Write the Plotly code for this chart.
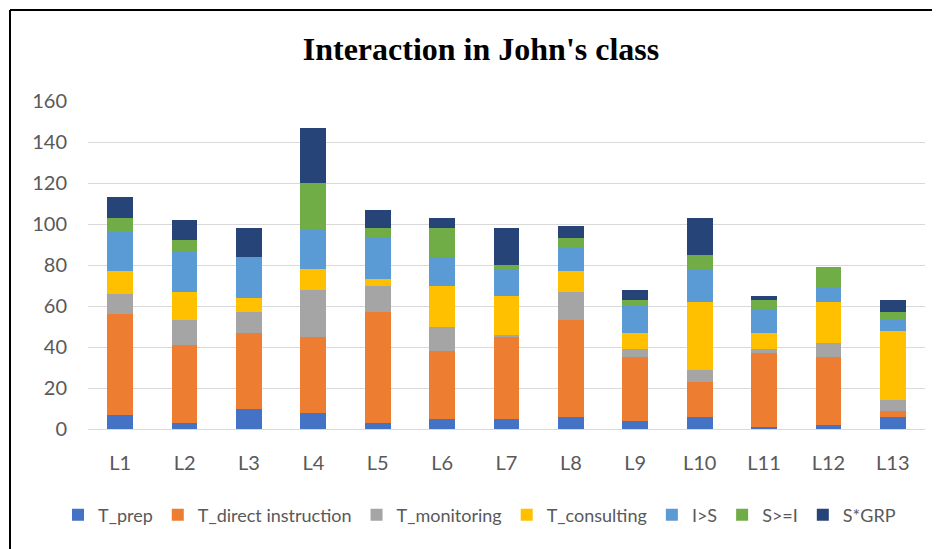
import plotly.graph_objects as go

lessons = ['L1', 'L2', 'L3', 'L4', 'L5', 'L6', 'L7', 'L8', 'L9', 'L10', 'L11', 'L12', 'L13']

t_prep = [7, 3, 10, 8, 3, 5, 5, 6, 4, 6, 1, 2, 6]
t_direct = [49, 38, 37, 37, 54, 33, 40, 47, 31, 17, 36, 33, 3]
t_monitoring = [10, 12, 10, 23, 13, 12, 1, 14, 4, 6, 2, 7, 5]
t_consulting = [11, 14, 7, 10, 3, 20, 19, 10, 8, 33, 8, 20, 34]
i_gt_s = [19, 20, 20, 19, 20, 14, 13, 12, 13, 16, 11, 7, 5]
s_ge_i = [7, 5, 0, 23, 5, 14, 2, 4, 3, 7, 5, 10, 4]
s_grp = [10, 10, 14, 27, 9, 5, 18, 6, 5, 18, 2, 0, 6]

series = [
    ('T_prep', t_prep, '#4472C4'),
    ('T_direct instruction', t_direct, '#ED7D31'),
    ('T_monitoring', t_monitoring, '#A5A5A5'),
    ('T_consulting', t_consulting, '#FFC000'),
    ('I>S', i_gt_s, '#5B9BD5'),
    ('S>=I', s_ge_i, '#70AD47'),
    ('S*GRP', s_grp, '#264478'),
]

fig = go.Figure()
for name, vals, color in series:
    fig.add_trace(go.Bar(x=lessons, y=vals, name=name,
                         marker=dict(color=color, line=dict(width=0))))

# page body has an 8px margin, so positions are the reference minus 8
OFF = 8
W, H = 940 - OFF, 549 - OFF
L, T = 88 - OFF, 101 - OFF
R = W - (925 - OFF)
B = H - (429 - OFF)
pw, ph = W - L - R, H - T - B

def px(x):
    return (x - OFF - L) / pw

def py(y):
    return (H - B - (y - OFF)) / ph

fig.update_layout(
    width=W, height=H,
    barmode='stack', bargap=0.6,
    plot_bgcolor='white', paper_bgcolor='white',
    margin=dict(l=L, r=R, t=T, b=B, autoexpand=False),
    font=dict(family='Lato, Open Sans, sans-serif', color='#595959', size=20),
    title=dict(text="<b>Interaction in John's class</b>",
               font=dict(family='Liberation Serif, Times New Roman, serif', size=32, color='black'),
               x=px(481), xref='paper', xanchor='center',
               y=1 - (49 - OFF) / H, yanchor='middle'),
    xaxis=dict(showgrid=False, showline=True, linecolor='#d9d9d9', linewidth=1,
               ticks='', ticklabelstandoff=16, tickfont=dict(size=20, color='#595959')),
    yaxis=dict(range=[0, 160], dtick=20, showgrid=True, gridcolor='#d9d9d9', gridwidth=1,
               zeroline=False, ticks='', ticklabelstandoff=20,
               tickfont=dict(size=20, color='#595959')),
    # anchored left of the plot area so the single row may be wider than the plot
    legend=dict(orientation='h', x=px(58), xanchor='left', y=py(515), yanchor='middle',
                font=dict(size=18, color='#595959'), itemwidth=30, tracegroupgap=0,
                traceorder='normal'),
    shapes=[
        dict(type='line', xref='paper', yref='paper', x0=px(10), x1=px(10),
             y0=py(10), y1=py(560), line=dict(color='black', width=2)),
        dict(type='line', xref='paper', yref='paper', x0=px(10), x1=px(950),
             y0=py(10), y1=py(10), line=dict(color='black', width=2)),
    ],
)

fig.write_html('out.html')
